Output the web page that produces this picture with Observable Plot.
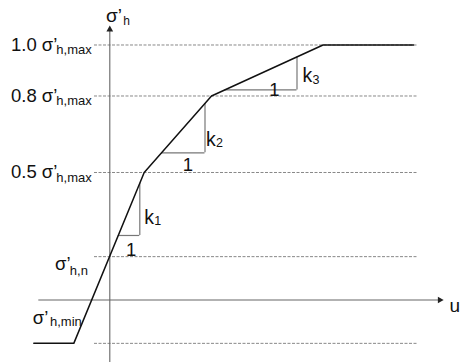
<!DOCTYPE html>
<html>
<head>
<meta charset="utf-8">
<script src="https://cdn.jsdelivr.net/npm/d3@7"></script>
<script src="https://cdn.jsdelivr.net/npm/@observablehq/plot@0.6"></script>
<style>
  html, body { margin: 0; padding: 0; background: #fff; }
</style>
</head>
<body>
<div id="chart"></div>
<script>
// Piecewise-linear law: horizontal effective stress σ'h against displacement u
const curveU = [-0.76, -0.36, 0.344, 1.017, 2.132, 3.037];
const curveS = [-0.17, -0.17, 0.5, 0.8, 1.0, 1.0];

// Stress levels, as fractions of σ'h,max, shown as dashed guides
const levelValues = [1.0, 0.8, 0.5];
const levelNames = ["1.0", "0.8", "0.5"];
const sigmaN = 0.17;    // σ'h,n (value at u = 0)
const sigmaMin = -0.17; // σ'h,min (lower plateau)

// Slope triangles k1, k2, k3: run from (u0, s0) to (u1, s0), rise up to s1
const slopeNames = ["1", "2", "3"];
const triU0 = [0.085, 0.517, 1.151];
const triU1 = [0.30, 0.952, 1.872];
const triS0 = [0.253, 0.577, 0.824];
const triS1 = [0.458, 0.771, 0.953];

const curve = curveU.map((u, i) => ({u, s: curveS[i]}));
const levels = levelValues.map((v, i) => ({v, name: levelNames[i]}));
const guides = [...levelValues, sigmaN, sigmaMin];
const tris = slopeNames.map((n, i) => ({n, u0: triU0[i], u1: triU1[i], s0: triS0[i], s1: triS1[i]}));

const font = "'Liberation Sans', Arial, Helvetica, sans-serif";
const ink = "#111";
const axisGray = "#666";
const triGray = "#777";

// Label offsets (px) for each slope triangle: "k" beside the rise, "1" by the run
const kOffsets = [[4.5, -11.5], [1.0, -7.3], [5.6, -7.6]];
const oneOffsets = [[2.2, 21], [4.6, 17.7], [13.5, 5.7]];

const txt = (data, opts) => Plot.text(data, {
  fontFamily: font, textAnchor: "start", lineAnchor: "bottom", fill: ink, ...opts
});

const axisTop = 1.055;
const axisRight = 3.30;

const slopeLabels = tris.flatMap((t, i) => [
  txt([t], {x: "u1", y: "s0", text: () => "k", fontSize: 19.5, dx: kOffsets[i][0], dy: kOffsets[i][1]}),
  txt([t], {x: "u1", y: "s0", text: "n", fontSize: 12.5, dx: kOffsets[i][0] + 10, dy: kOffsets[i][1] + 1.3}),
  txt([t], {x: d => (d.u0 + d.u1) / 2, y: "s0", text: () => "1", fontSize: 18.5, textAnchor: "middle",
            dx: oneOffsets[i][0], dy: oneOffsets[i][1]})
]);

const chart = Plot.plot({
  width: 460,
  height: 362,
  margin: 0,
  x: {domain: [-1.093, 3.507], axis: null},
  y: {domain: [-0.2451, 1.17451], axis: null},
  style: {fontFamily: font, background: "#fff", overflow: "visible"},
  marks: [
    // dashed guide lines
    Plot.ruleY(guides, {x1: -0.153, x2: 3.087, stroke: "#888", strokeWidth: 1, strokeDasharray: "3,1.5"}),
    // axes with arrowheads
    Plot.ruleX([0], {y1: -0.2451, y2: axisTop, stroke: axisGray, strokeWidth: 1.1}),
    Plot.ruleY([0], {x1: -0.71, x2: axisRight, stroke: axisGray, strokeWidth: 1.1}),
    Plot.dot([{u: 0, s: axisTop}], {x: "u", y: "s", symbol: "triangle", r: 2.5, fill: "#222", dy: -1.5}),
    Plot.dot([{u: axisRight, s: 0}], {x: "u", y: "s", symbol: "triangle", r: 2.5, fill: "#222", rotate: 90}),
    // slope triangles
    Plot.ruleY(tris, {x1: "u0", x2: "u1", y: "s0", stroke: triGray, strokeWidth: 1.2}),
    Plot.ruleX(tris, {x: "u1", y1: "s0", y2: "s1", stroke: triGray, strokeWidth: 1.2}),
    // stress–displacement curve
    Plot.line(curve, {x: "u", y: "s", stroke: ink, strokeWidth: 1.5}),
    // level labels on the left
    txt(levels, {x: 0, y: "v", text: d => `${d.name} σ’`, fontSize: 18.5, dx: -98.8, dy: 5.8}),
    txt(levels, {x: 0, y: "v", text: () => "h,max", fontSize: 13, dx: -53.5, dy: 9.3}),
    txt([sigmaN], {x: 0, y: d => d, text: () => "σ’", fontSize: 18.5, dx: -54.8, dy: 13.8}),
    txt([sigmaN], {x: 0, y: d => d, text: () => "h,n", fontSize: 13, dx: -40, dy: 18.8}),
    txt([sigmaMin], {x: 0, y: d => d, text: () => "σ’", fontSize: 18.5, dx: -77, dy: -19.5}),
    txt([sigmaMin], {x: 0, y: d => d, text: () => "h,min", fontSize: 13, dx: -59.8, dy: -16.9}),
    // axis titles
    txt([axisTop], {x: 0, y: d => d, text: () => "σ’", fontSize: 19, dx: -3.8, dy: -8.8}),
    txt([axisTop], {x: 0, y: d => d, text: () => "h", fontSize: 12, dx: 13.5, dy: -5.5}),
    txt([0], {x: axisRight, y: d => d, text: () => "u", fontSize: 19, dx: 9.7, dy: 11.7}),
    ...slopeLabels
  ]
});

document.getElementById("chart").appendChild(chart);
</script>
</body>
</html>
